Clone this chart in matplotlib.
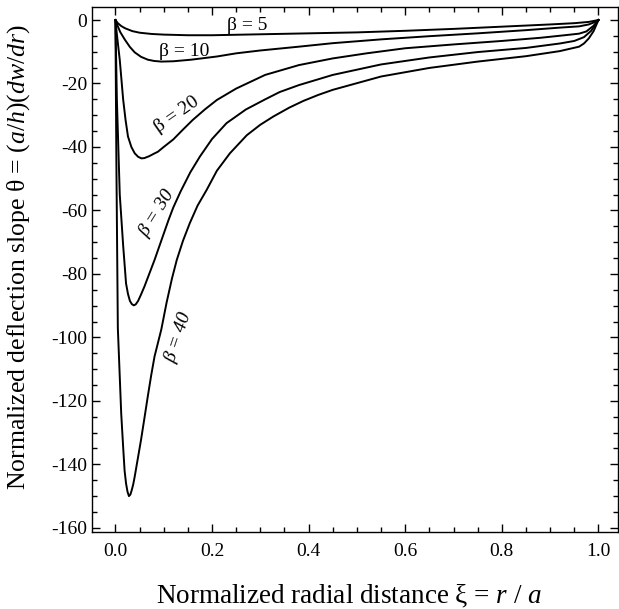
import matplotlib

matplotlib.use("Agg")
import matplotlib.pyplot as plt
from matplotlib.ticker import MultipleLocator

plt.rcParams["font.family"] = ["Liberation Serif", "DejaVu Serif"]
plt.rcParams["mathtext.fontset"] = "custom"
plt.rcParams["mathtext.rm"] = "Liberation Serif"
plt.rcParams["mathtext.it"] = "Liberation Serif:italic"
plt.rcParams["axes.unicode_minus"] = False

# curves, theta vs xi
xi_5 = [0, 0.005, 0.012, 0.02, 0.035, 0.05, 0.075, 0.1, 0.15, 0.2, 0.3, 0.4, 0.5, 0.6, 0.7, 0.8, 0.9,
        0.95, 0.98, 1.0]
th_5 = [0, -1.0, -1.9, -2.6, -3.5, -4.0, -4.4, -4.6, -4.8, -4.8, -4.5, -4.2, -3.9, -3.4, -2.8, -2.1, -1.4,
        -1.0, -0.6, 0]

xi_10 = [0, 0.005, 0.01, 0.02, 0.03, 0.04, 0.053, 0.067, 0.08, 0.095, 0.12, 0.157, 0.21, 0.25, 0.3, 0.38,
         0.45, 0.55, 0.65, 0.75, 0.85, 0.92, 0.96, 0.98, 0.99, 1.0]
th_10 = [0, -2.0, -3.8, -6.3, -8.5, -10.2, -11.6, -12.5, -12.9, -13.1, -13.0, -12.5, -11.5, -10.5, -9.6, -8.4,
         -7.3, -6.1, -5.1, -4.2, -3.2, -2.4, -2.0, -1.4, -0.8, 0]

xi_20 = [0, 0.003, 0.009, 0.016, 0.021, 0.026, 0.033, 0.04, 0.047, 0.054, 0.06, 0.07, 0.08, 0.088, 0.1,
         0.12, 0.14, 0.16, 0.185, 0.21, 0.25, 0.31, 0.38, 0.45, 0.52, 0.6, 0.7, 0.8, 0.88, 0.93, 0.96,
         0.975, 0.99, 1.0]
th_20 = [0, -4.5, -12.6, -25.0, -31.5, -36.7, -40.0, -42.0, -43.1, -43.6, -43.5, -42.9, -42.1, -41.5, -40.0,
         -37.6, -34.5, -31.5, -28.2, -25.2, -21.6, -17.3, -14.2, -12.1, -10.5, -8.9, -7.7, -6.6, -5.6, -4.8, -4.3,
         -3.6, -1.8, 0]

xi_30 = [0, 0.003, 0.009, 0.016, 0.022, 0.026, 0.03, 0.034, 0.038, 0.042, 0.047, 0.053, 0.06, 0.07, 0.081,
         0.095, 0.11, 0.12, 0.135, 0.155, 0.175, 0.2, 0.23, 0.27, 0.31, 0.34, 0.38, 0.45, 0.55, 0.65, 0.75,
         0.85, 0.92, 0.95, 0.97, 0.985, 1.0]
th_30 = [0, -25.0, -55.0, -71.0, -83.0, -86.3, -88.5, -89.5, -89.9, -89.6, -88.5, -86.5, -84.0, -80.0, -75.6,
         -69.5, -63.0, -59.0, -54.0, -48.0, -43.0, -37.5, -32.5, -28.2, -25.0, -22.7, -20.5, -17.3, -14.0, -11.8, -10.1,
         -8.8, -7.4, -6.6, -5.4, -3.4, 0]

xi_40 = [0, 0.002, 0.005, 0.012, 0.016, 0.019, 0.022, 0.025, 0.028, 0.031, 0.034, 0.037, 0.04, 0.046,
         0.053, 0.06, 0.067, 0.074, 0.081, 0.095, 0.106, 0.117, 0.127, 0.14, 0.154, 0.17, 0.189, 0.21,
         0.237, 0.272, 0.3, 0.327, 0.36, 0.389, 0.42, 0.45, 0.55, 0.65, 0.75, 0.85, 0.92, 0.94, 0.96,
         0.97, 0.98, 0.99, 1.0]
th_40 = [0, -45.0, -97.0, -124.0, -134.5, -142.0, -146.0, -148.6, -150.0, -149.5, -148.0, -146.2, -143.8, -138.5,
         -132.3, -125.5, -118.6, -112.0, -106.0, -97.5, -89.0, -81.5, -75.6, -69.5, -64.0, -58.5, -53.5, -47.5,
         -42.0, -36.3, -33.0, -30.4, -27.6, -25.5, -23.6, -22.0, -17.8, -15.1, -13.1, -11.4, -9.8, -9.1, -8.4,
         -7.4, -5.8, -3.5, 0]

curves = [(xi_5, th_5), (xi_10, th_10), (xi_20, th_20), (xi_30, th_30), (xi_40, th_40)]

fig = plt.figure(figsize=(6.19, 6.09), dpi=100)
ax = fig.add_axes([0.149, 0.127, 0.849, 0.861])

for xs, ys in curves:
    ax.plot(xs, ys, color="black", lw=1.4, solid_joinstyle="round")

ax.set_xlim(-0.048, 1.04)
ax.set_ylim(-161.2, 4.0)
ax.xaxis.set_major_locator(MultipleLocator(0.2))
ax.xaxis.set_minor_locator(MultipleLocator(0.05))
ax.yaxis.set_major_locator(MultipleLocator(20))
ax.yaxis.set_minor_locator(MultipleLocator(5))
ax.xaxis.set_major_formatter(plt.FuncFormatter(lambda v, p: f"{v:.1f}"))
ax.yaxis.set_major_formatter(plt.FuncFormatter(lambda v, p: f"{v:.0f}"))
ax.tick_params(which="both", direction="in", top=True, right=True, labelsize=14, width=1.0)
ax.tick_params(which="major", length=6)
ax.tick_params(which="minor", length=3.5)
ax.tick_params(axis="x", pad=8)
for s in ax.spines.values():
    s.set_linewidth(1.0)

ax.text(0.272, -1.6, "β = 5", fontsize=14, ha="center", va="center")
ax.text(0.142, -9.9, "β = 10", fontsize=14, ha="center", va="center")
ax.text(0.126, -29.9, "β = 20", fontsize=14, ha="center", va="center", rotation=35)
ax.text(0.085, -60.8, "β = 30", fontsize=14, ha="center", va="center", rotation=58, style="italic")
ax.text(0.131, -100, "β = 40", fontsize=14, ha="center", va="center", rotation=71.6, style="italic")

fig.text(0.564, 0.02, r"Normalized radial distance ξ = $r$ / $a$", fontsize=19.5, ha="center", va="center")
fig.text(0.03, 0.578, r"Normalized deflection slope θ = ($a$/$h$)($dw$/$dr$)", fontsize=18.5,
         ha="center", va="center", rotation=90)

fig.savefig("out.png", dpi=100)
